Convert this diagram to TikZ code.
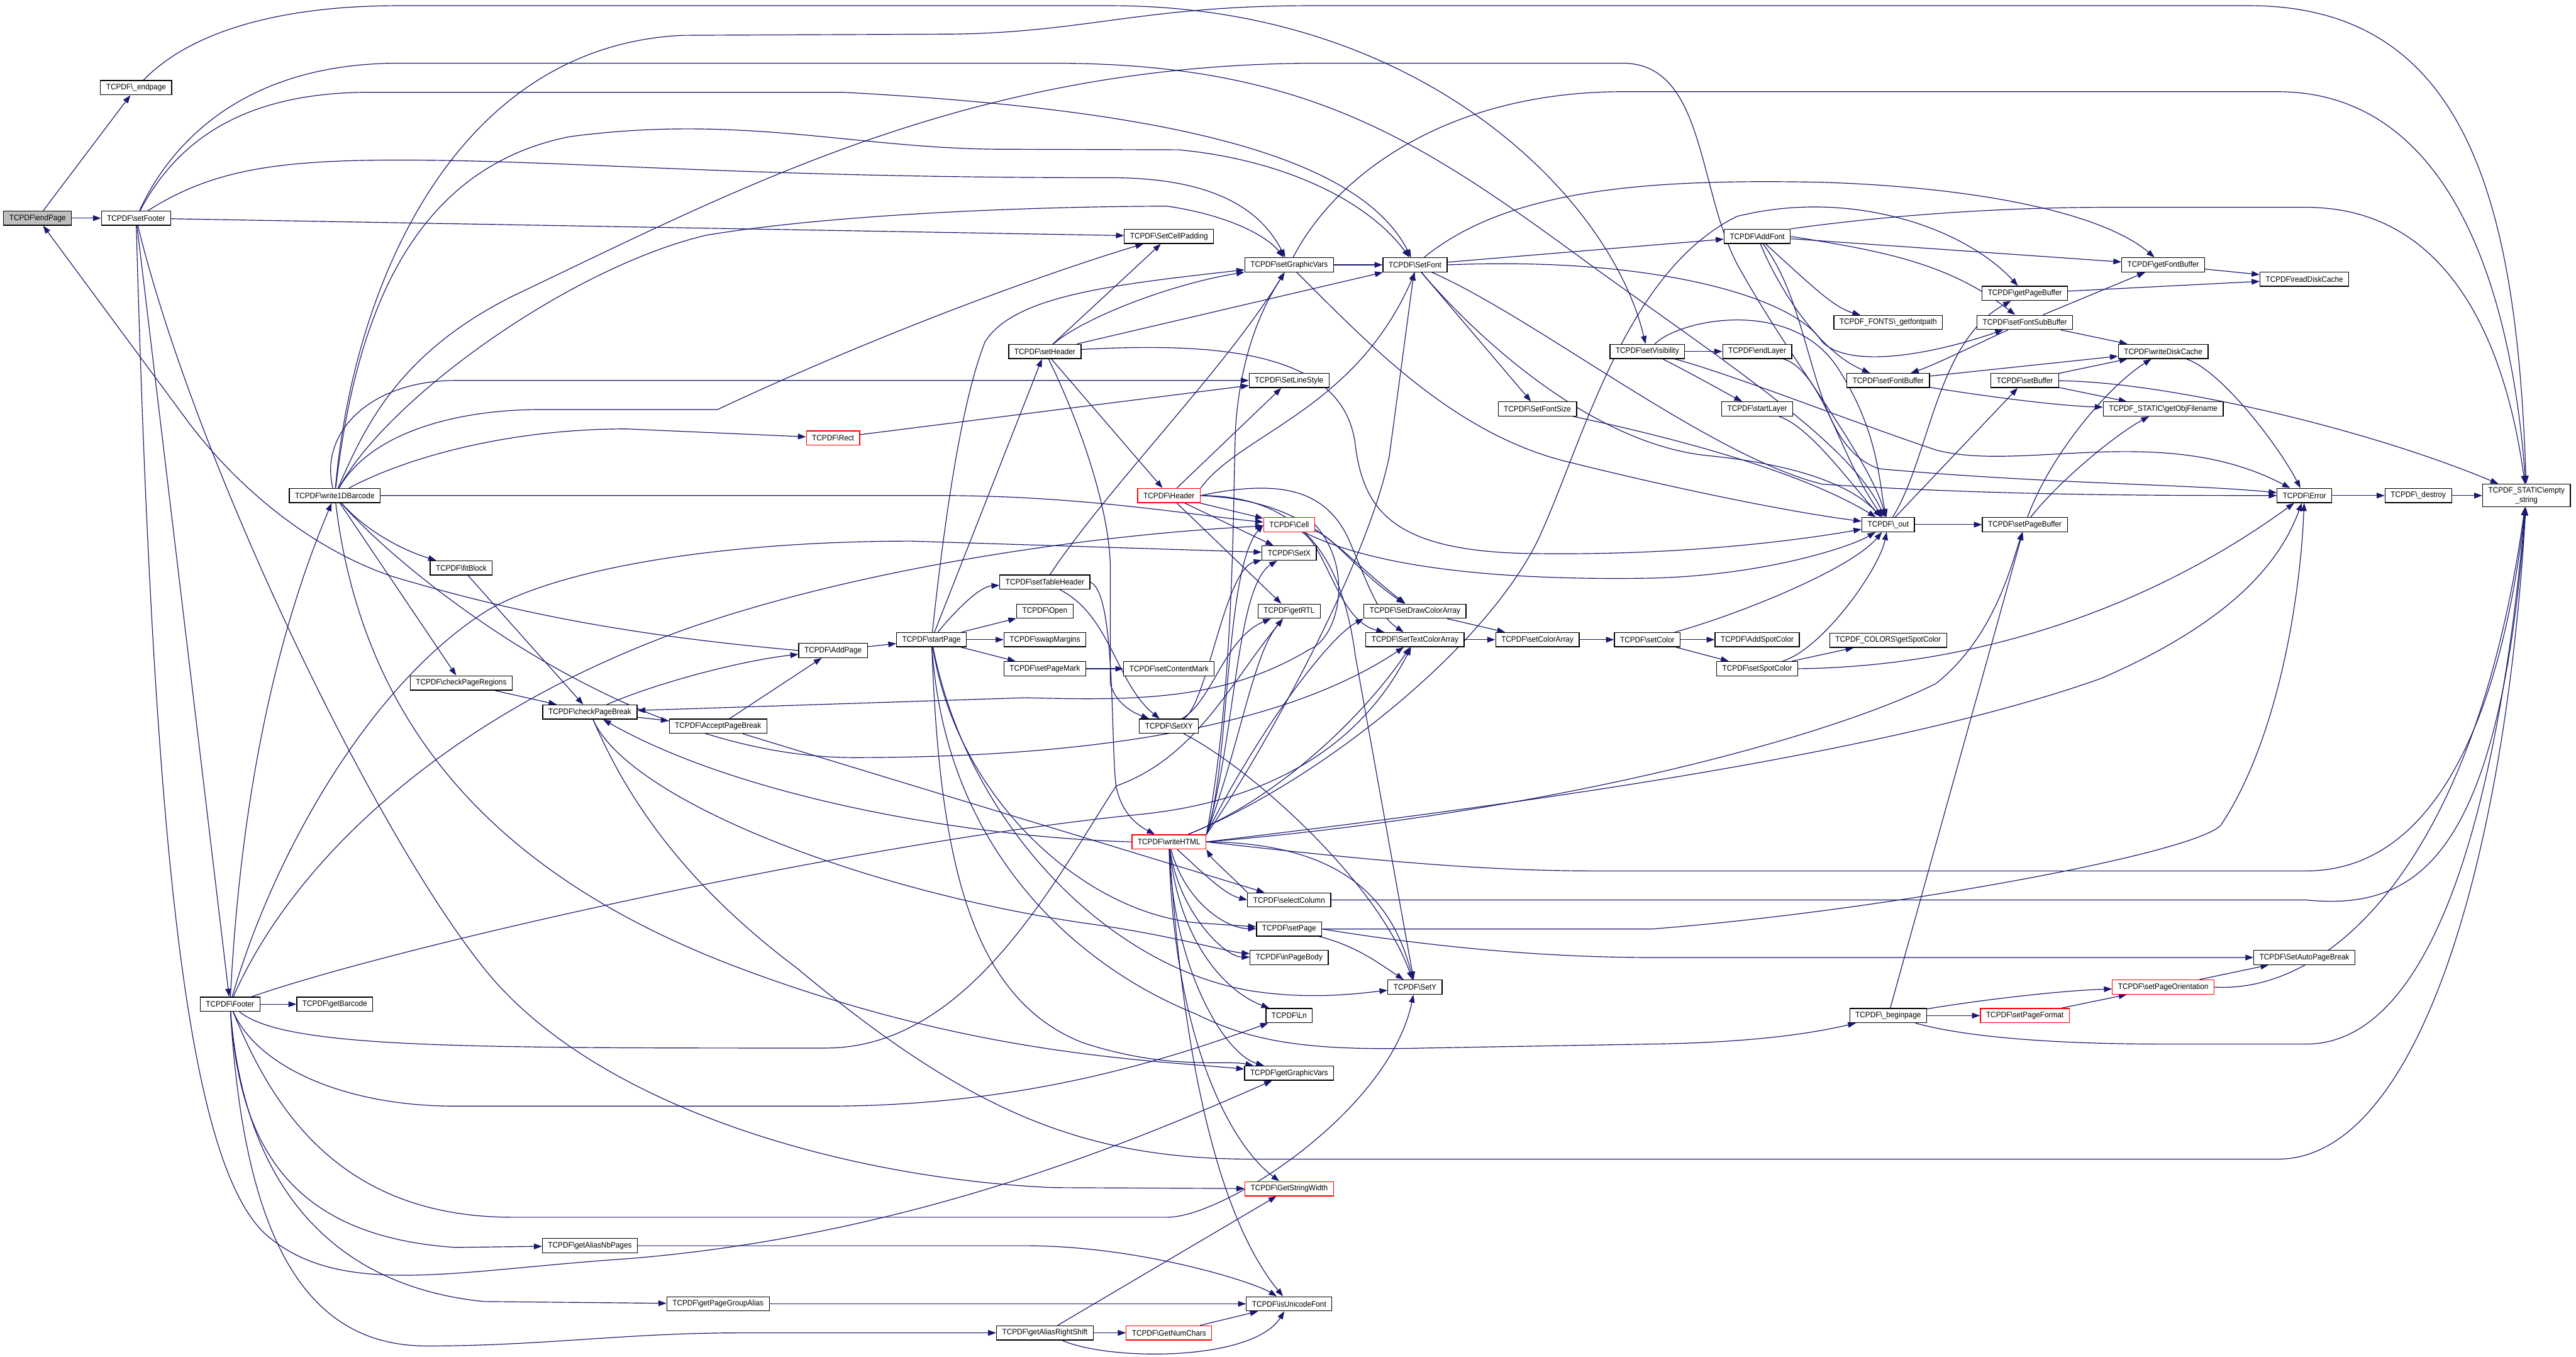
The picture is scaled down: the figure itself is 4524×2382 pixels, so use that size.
\documentclass[tikz,border=0pt]{standalone}
\usepackage{fontspec}
\newfontfamily\dxfont[FakeStretch=0.93]{Liberation Sans}
\usepackage{tikz}
\usetikzlibrary{arrows.meta,positioning,calc,backgrounds}
\definecolor{dxblue}{HTML}{191970}
\definecolor{dxgray}{HTML}{BFBFBF}
\newcommand{\tcpdf}{TCPDF\textbackslash}

\begin{document}
\begin{tikzpicture}[
    x=1pt, y=-1pt,
    fnbox/.style={draw=black, line width=1.4pt, fill=white, font=\dxfont\fontsize{14}{16}\selectfont,
                  minimum height=25pt, inner xsep=10pt, inner ysep=0pt},
    fnred/.style={fnbox, draw=red},
    fnroot/.style={fnbox, fill=dxgray},
    call/.style={draw=dxblue, line width=1.3pt, -{Triangle[length=14pt,width=10pt]}}
]
\useasboundingbox (0,0) rectangle (4524,2382);

% nodes
\node[fnroot] (endPage) at (66,383) {\tcpdf endPage};
\node[fnbox] (endpageU) at (239,154) {\tcpdf\_endpage};
\node[fnbox] (setFooter) at (239,383) {\tcpdf setFooter};
\node[fnbox] (Footer) at (404,1763) {\tcpdf Footer};
\node[fnbox] (write1DBarcode) at (588,870) {\tcpdf write1DBarcode};
\node[fnbox] (getBarcode) at (588,1763) {\tcpdf getBarcode};
\node[fnbox] (fitBlock) at (810,997) {\tcpdf fitBlock};
\node[fnbox] (checkPageRegions) at (810,1199) {\tcpdf checkPageRegions};
\node[fnbox] (checkPageBreak) at (1036,1250) {\tcpdf checkPageBreak};
\node[fnbox] (getAliasNbPages) at (1036,2187) {\tcpdf getAliasNbPages};
\node[fnbox] (AcceptPageBreak) at (1261,1275) {\tcpdf AcceptPageBreak};
\node[fnbox] (getPageGroupAlias) at (1261,2289) {\tcpdf getPageGroupAlias};
\node[fnred] (Rect) at (1463,769) {\tcpdf Rect};
\node[fnbox] (AddPage) at (1463,1142) {\tcpdf AddPage};
\node[fnbox] (startPage) at (1636,1123) {\tcpdf startPage};
\node[fnbox] (setHeader) at (1835,617) {\tcpdf setHeader};
\node[fnbox] (setTableHeader) at (1835,1022) {\tcpdf setTableHeader};
\node[fnbox] (Open) at (1835,1073) {\tcpdf Open};
\node[fnbox] (swapMargins) at (1835,1123) {\tcpdf swapMargins};
\node[fnbox] (setPageMark) at (1835,1174) {\tcpdf setPageMark};
\node[fnbox] (getAliasRightShift) at (1835,2340) {\tcpdf getAliasRightShift};
\node[fnbox] (SetCellPadding) at (2053,415) {\tcpdf SetCellPadding};
\node[fnred] (Header) at (2053,870) {\tcpdf Header};
\node[fnbox] (setContentMark) at (2053,1174) {\tcpdf setContentMark};
\node[fnbox] (SetXY) at (2053,1275) {\tcpdf SetXY};
\node[fnred] (writeHTML) at (2053,1478) {\tcpdf writeHTML};
\node[fnred] (GetNumChars) at (2053,2340) {\tcpdf GetNumChars};
\node[fnbox] (setGraphicVars) at (2264,465) {\tcpdf setGraphicVars};
\node[fnbox] (SetLineStyle) at (2264,668) {\tcpdf SetLineStyle};
\node[fnred] (Cell) at (2264,921) {\tcpdf Cell};
\node[fnbox] (SetX) at (2264,971) {\tcpdf SetX};
\node[fnbox] (getRTL) at (2264,1073) {\tcpdf getRTL};
\node[fnbox] (selectColumn) at (2264,1580) {\tcpdf selectColumn};
\node[fnbox] (setPage) at (2264,1631) {\tcpdf setPage};
\node[fnbox] (inPageBody) at (2264,1681) {\tcpdf inPageBody};
\node[fnbox] (Ln) at (2264,1783) {\tcpdf Ln};
\node[fnbox] (getGraphicVars) at (2264,1884) {\tcpdf getGraphicVars};
\node[fnred] (GetStringWidth) at (2264,2087) {\tcpdf GetStringWidth};
\node[fnbox] (isUnicodeFont) at (2264,2289) {\tcpdf isUnicodeFont};
\node[fnbox] (SetFont) at (2485,465) {\tcpdf SetFont};
\node[fnbox] (SetDrawColorArray) at (2485,1073) {\tcpdf SetDrawColorArray};
\node[fnbox] (SetTextColorArray) at (2485,1123) {\tcpdf SetTextColorArray};
\node[fnbox] (SetY) at (2485,1733) {\tcpdf SetY};
\node[fnbox] (SetFontSize) at (2700,718) {\tcpdf SetFontSize};
\node[fnbox] (setColorArray) at (2700,1123) {\tcpdf setColorArray};
\node[fnbox] (setVisibility) at (2893,617) {\tcpdf setVisibility};
\node[fnbox] (setColor) at (2893,1123) {\tcpdf setColor};
\node[fnbox] (AddFont) at (3086,415) {\tcpdf AddFont};
\node[fnbox] (endLayer) at (3086,617) {\tcpdf endLayer};
\node[fnbox] (startLayer) at (3086,718) {\tcpdf startLayer};
\node[fnbox] (AddSpotColor) at (3086,1123) {\tcpdf AddSpotColor};
\node[fnbox] (setSpotColor) at (3086,1174) {\tcpdf setSpotColor};
\node[fnbox] (getfontpath) at (3316,566) {TCPDF\_FONTS\textbackslash\_getfontpath};
\node[fnbox] (setFontBuffer) at (3316,668) {\tcpdf setFontBuffer};
\node[fnbox] (out) at (3316,921) {\tcpdf\_out};
\node[fnbox] (getSpotColor) at (3316,1124) {TCPDF\_COLORS\textbackslash getSpotColor};
\node[fnbox] (beginpage) at (3316,1783) {\tcpdf\_beginpage};
\node[fnbox] (getPageBuffer) at (3556,515) {\tcpdf getPageBuffer};
\node[fnbox] (setFontSubBuffer) at (3556,566) {\tcpdf setFontSubBuffer};
\node[fnbox] (setBuffer) at (3556,668) {\tcpdf setBuffer};
\node[fnbox] (setPageBuffer) at (3556,921) {\tcpdf setPageBuffer};
\node[fnred] (setPageFormat) at (3556,1783) {\tcpdf setPageFormat};
\node[fnbox] (getFontBuffer) at (3799,465) {\tcpdf getFontBuffer};
\node[fnbox] (writeDiskCache) at (3799,617) {\tcpdf writeDiskCache};
\node[fnbox] (getObjFilename) at (3799,718) {TCPDF\_STATIC\textbackslash getObjFilename};
\node[fnred] (setPageOrientation) at (3799,1733) {\tcpdf setPageOrientation};
\node[fnbox] (readDiskCache) at (4047,490) {\tcpdf readDiskCache};
\node[fnbox] (Error) at (4047,870) {\tcpdf Error};
\node[fnbox] (SetAutoPageBreak) at (4047,1681) {\tcpdf SetAutoPageBreak};
\node[fnbox] (destroy) at (4247,870) {\tcpdf\_destroy};
\node[fnbox, align=center, minimum height=40pt] (emptystring) at (4437,870) {TCPDF\_STATIC\textbackslash empty\\\_string};

\begin{scope}[on background layer]
% endPage
\draw[call] (endPage) -- (endpageU);
\draw[call] (endPage) -- (setFooter);
\draw[call] (AddPage.west) .. controls (1100,1115) and (900,1075) .. (689,1012) .. controls (550,965) and (420,860) .. (330,740) -- (endPage);
\draw[call] (endpageU) .. controls (330,60) and (480,10) .. (700,10) -- (1950,10) .. controls (2500,10) and (2830,350) .. (setVisibility);

% setFooter
\draw[call] (setFooter) -- (SetCellPadding);
\draw[call] (setFooter) .. controls (300,250) and (430,111) .. (700,111) -- (1850,111) .. controls (2300,111) and (2500,250) .. (2800,470) .. controls (3050,650) and (3250,780) .. (out);
\draw[call] (setFooter) .. controls (320,230) and (450,162) .. (650,162) -- (1480,162) .. controls (2000,190) and (2380,260) .. (SetFont);
\draw[call] (setFooter) .. controls (370,300) and (480,281) .. (700,281) .. controls (1000,281) and (1300,312) .. (1950,312) .. controls (2150,312) and (2220,380) .. (setGraphicVars);
\draw[call] (setFooter) -- (Footer);
\draw[call] (setFooter) .. controls (270,1500) and (330,2050) .. (470,2170) .. controls (600,2280) and (800,2230) .. (1100,2210) .. controls (1600,2170) and (2000,2000) .. (getGraphicVars);
\draw[call] (setFooter) .. controls (340,800) and (650,1450) .. (850,1700) .. controls (1050,1950) and (1500,2070) .. (1850,2085) -- (GetStringWidth);

% Footer
\draw[call] (Footer) -- (getBarcode);
\draw[call] (Footer) .. controls (420,1450) and (470,1150) .. (write1DBarcode);
\draw[call] (Footer) .. controls (520,1500) and (800,1250) .. (1200,1106) .. controls (1500,1000) and (1900,940) .. (Cell);
\draw[call] (Footer) .. controls (480,1500) and (650,1200) .. (857,1071) .. controls (1000,990) and (1300,950) .. (1600,950) -- (SetX);
\draw[call] (Footer) .. controls (700,1660) and (1500,1480) .. (2000,1430) .. controls (2300,1400) and (2420,1250) .. (SetTextColorArray);
\draw[call] (Footer) .. controls (500,1840) and (800,1840) .. (1450,1840) .. controls (1700,1840) and (1850,1550) .. (1960,1380) .. controls (2100,1330) and (2160,1200) .. (getRTL);
\draw[call] (Footer) .. controls (450,1870) and (600,1942) .. (800,1942) -- (1450,1942) .. controls (1800,1942) and (2050,1860) .. (Ln);
\draw[call] (Footer) .. controls (480,1950) and (600,2137) .. (900,2137) -- (2050,2137) .. controls (2150,2137) and (2440,1950) .. (SetY);
\draw[call] (Footer) .. controls (420,2000) and (500,2170) .. (800,2190) -- (getAliasNbPages);
\draw[call] (Footer) .. controls (430,2100) and (600,2260) .. (850,2285) -- (getPageGroupAlias);
\draw[call] (Footer) .. controls (430,2200) and (550,2363) .. (750,2363) .. controls (950,2363) and (1100,2340) .. (1300,2340) -- (getAliasRightShift);

% write1DBarcode
\draw[call] (write1DBarcode) .. controls (620,500) and (800,80) .. (1200,62) -- (1650,60) .. controls (1900,60) and (2000,10) .. (2300,10) -- (3950,10) .. controls (4330,10) and (4420,350) .. (emptystring);
\draw[call] (write1DBarcode) .. controls (640,750) and (700,620) .. (900,520) .. controls (1300,330) and (1700,115) .. (2300,111) -- (2850,111) .. controls (3000,111) and (2980,350) .. (3060,480) .. controls (3150,640) and (3280,800) .. (out);
\draw[call] (write1DBarcode) .. controls (620,600) and (700,300) .. (1000,240) .. controls (1300,200) and (1500,260) .. (1750,262) -- (2070,263) .. controls (2250,280) and (2400,350) .. (SetFont);
\draw[call] (write1DBarcode) .. controls (680,700) and (1000,470) .. (1240,413) .. controls (1500,370) and (1900,362) .. (2050,362) .. controls (2170,380) and (2230,420) .. (setGraphicVars);
\draw[call] (write1DBarcode) .. controls (560,760) and (650,668) .. (800,668) -- (SetLineStyle);
\draw[call] (write1DBarcode) .. controls (650,760) and (800,719) .. (950,719) -- (1260,719) .. controls (1600,560) and (1900,460) .. (SetCellPadding);
\draw[call] (write1DBarcode) .. controls (720,800) and (900,753) .. (1100,753) -- (Rect);
\draw[call] (write1DBarcode) -- (1650,870) .. controls (1900,870) and (2100,905) .. (Cell);
\draw[call] (write1DBarcode) .. controls (650,940) and (720,970) .. (fitBlock);
\draw[call] (write1DBarcode) -- (checkPageRegions);
\draw[call] (write1DBarcode) .. controls (640,1300) and (900,1550) .. (1300,1700) .. controls (1700,1850) and (2000,1860) .. (getGraphicVars);
\draw[call] (write1DBarcode) .. controls (700,1000) and (1100,1330) .. (1500,1330) .. controls (1900,1330) and (2250,1280) .. (SetTextColorArray);

% page breaking
\draw[call] (fitBlock) -- (checkPageBreak);
\draw[call] (checkPageRegions) -- (checkPageBreak);
\draw[call] (checkPageBreak) -- (AcceptPageBreak);
\draw[call] (checkPageBreak) .. controls (1150,1200) and (1300,1160) .. (AddPage);
\draw[call] (checkPageBreak) .. controls (1100,1400) and (1500,1560) .. (1900,1620) .. controls (2050,1640) and (2150,1670) .. (inPageBody);
\draw[call] (checkPageBreak) .. controls (1100,1400) and (1200,1550) .. (1400,1700) .. controls (1700,1950) and (1900,2035) .. (2200,2035) -- (4000,2035) .. controls (4250,2035) and (4400,1500) .. (emptystring);
\draw[call] (AcceptPageBreak) -- (AddPage);
\draw[call] (AcceptPageBreak) -- (selectColumn);
\draw[call] (AddPage) -- (startPage);

% startPage
\draw[call] (startPage) .. controls (1680,1070) and (1720,1030) .. (setTableHeader);
\draw[call] (startPage) -- (Open);
\draw[call] (startPage) -- (swapMargins);
\draw[call] (startPage) -- (setPageMark);
\draw[call] (startPage) -- (setHeader);
\draw[call] (startPage) .. controls (1660,900) and (1690,700) .. (1730,600) .. controls (1780,520) and (1950,500) .. (setGraphicVars);
\draw[call] (startPage) .. controls (1650,1500) and (1700,1750) .. (1900,1830) .. controls (2050,1880) and (2150,1860) .. (getGraphicVars);
\draw[call] (startPage) .. controls (1660,1500) and (1900,1700) .. (2100,1780) .. controls (2200,1830) and (2300,1845) .. (2500,1840) -- (2900,1833) .. controls (3100,1830) and (3200,1810) .. (beginpage);
\draw[call] (startPage) .. controls (1680,1400) and (1900,1600) .. (2100,1620) -- (setPage);
\draw[call] (startPage) .. controls (1700,1450) and (1950,1700) .. (2200,1740) .. controls (2300,1755) and (2380,1745) .. (SetY);
\draw[call] (setPageMark) -- (setContentMark);

% setTableHeader, setHeader
\draw[call] (setTableHeader) .. controls (1950,1080) and (1960,1200) .. (SetXY);
\draw[call] (setTableHeader.east) .. controls (1960,1040) and (1950,1300) .. (1960,1380) .. controls (1970,1430) and (2000,1450) .. (writeHTML);
\draw[call] (setTableHeader) .. controls (1950,850) and (2150,650) .. (setGraphicVars);
\draw[call] (setHeader) -- (SetCellPadding);
\draw[call] (setHeader) .. controls (1900,560) and (2050,500) .. (setGraphicVars);
\draw[call] (setHeader) -- (SetFont);
\draw[call] (setHeader) -- (Header);
\draw[call] (setHeader) .. controls (2150,600) and (2360,620) .. (2380,780) .. controls (2395,900) and (2450,970) .. (2700,972) .. controls (2950,975) and (3150,950) .. (out);
\draw[call] (setHeader) .. controls (1900,750) and (1950,900) .. (1950,1000) -- (1950,1200) .. controls (1960,1240) and (2000,1255) .. (SetXY);

% Header, Rect, SetXY, Cell
\draw[call] (Header) -- (SetLineStyle);
\draw[call] (Header.north east) .. controls (2180,760) and (2380,720) .. (SetFont.south);
\draw[call] (Header) -- (Cell);
\draw[call] (Header) -- (SetX);
\draw[call] (Header) -- (getRTL);
\draw[call] (Header.east) .. controls (2250,840) and (2330,860) .. (2370,950) .. controls (2400,1020) and (2420,1080) .. (SetTextColorArray);
\draw[call] (Header.east) .. controls (2300,880) and (2340,960) .. (SetDrawColorArray);
\draw[call] (Header.east) .. controls (2300,870) and (2360,1000) .. (2380,1150) -- (SetY);
\draw[call] (Rect) -- (SetLineStyle);
\draw[call] (SetXY) .. controls (2120,1240) and (2150,1000) .. (SetX);
\draw[call] (SetXY) .. controls (2130,1230) and (2150,1120) .. (getRTL);
\draw[call] (SetXY) .. controls (2200,1350) and (2420,1550) .. (SetY);
\draw[call] (Cell.east) .. controls (2380,1000) and (2350,1120) .. (2300,1140) .. controls (2150,1230) and (2000,1230) .. (1800,1225) -- (checkPageBreak);
\draw[call] (Cell) .. controls (2340,940) and (2380,1000) .. (SetDrawColorArray);
\draw[call] (Cell) .. controls (2330,960) and (2350,1090) .. (SetTextColorArray);
\draw[call] (Cell) .. controls (2400,990) and (2600,1020) .. (2900,1015) .. controls (3100,1010) and (3250,960) .. (out);

% colours
\draw[call] (SetDrawColorArray) -- (setColorArray);
\draw[call] (SetTextColorArray) -- (setColorArray);
\draw[call] (setColorArray) -- (setColor);
\draw[call] (setColor) -- (AddSpotColor);
\draw[call] (setColor) -- (setSpotColor);
\draw[call] (setColor) .. controls (3050,1080) and (3250,1000) .. (out);
\draw[call] (setSpotColor) -- (getSpotColor);
\draw[call] (setSpotColor) .. controls (3200,1140) and (3300,1000) .. (out);
\draw[call] (setSpotColor.east) .. controls (3500,1170) and (3800,1050) .. (Error);

% fonts
\draw[call] (setGraphicVars) -- (SetFont);
\draw[call] (setGraphicVars) .. controls (2350,300) and (2550,161) .. (2850,161) -- (4000,161) .. controls (4300,161) and (4410,500) .. (emptystring);
\draw[call] (setGraphicVars) .. controls (2400,600) and (2550,760) .. (2750,810) .. controls (2950,860) and (3150,900) .. (out);
\draw[call] (SetFont) -- (AddFont);
\draw[call] (SetFont) -- (SetFontSize);
\draw[call] (SetFont) .. controls (2600,600) and (2800,780) .. (3000,800) .. controls (3150,815) and (3250,850) .. (out);
\draw[call] (SetFont) .. controls (2650,330) and (2900,314) .. (3200,320) .. controls (3500,330) and (3700,380) .. (getFontBuffer);
\draw[call] (SetFont.east) .. controls (2900,450) and (3150,520) .. (3200,600) .. controls (3250,650) and (3400,620) .. (setFontSubBuffer);
\draw[call] (SetFont) .. controls (2700,560) and (3000,800) .. (3200,850) .. controls (3500,870) and (3800,870) .. (Error);
\draw[call] (SetFontSize) .. controls (2900,760) and (3150,820) .. (out);
\draw[call] (AddFont) -- (getFontBuffer);
\draw[call] (AddFont.north east) .. controls (3300,380) and (3500,364) .. (3700,364) -- (4050,364) .. controls (4300,364) and (4400,600) .. (emptystring);
\draw[call] (AddFont) .. controls (3180,500) and (3220,540) .. (getfontpath);
\draw[call] (AddFont) .. controls (3130,520) and (3200,620) .. (setFontBuffer);
\draw[call] (AddFont.east) .. controls (3300,440) and (3420,460) .. (setFontSubBuffer);
\draw[call] (AddFont) .. controls (3190,550) and (3175,780) .. (3300,823) .. controls (3600,850) and (3850,850) .. (Error);
\draw[call] (setVisibility) -- (endLayer);
\draw[call] (setVisibility) .. controls (2960,650) and (3050,700) .. (startLayer);
\draw[call] (setVisibility) .. controls (2950,560) and (3150,520) .. (3230,650) .. controls (3300,760) and (3300,850) .. (out);
\draw[call] (setVisibility) .. controls (3050,660) and (3250,740) .. (3400,790) .. controls (3550,830) and (3800,740) .. (Error);
\draw[call] (endLayer) .. controls (3200,650) and (3230,800) .. (out);
\draw[call] (startLayer) .. controls (3180,750) and (3250,850) .. (out);

% buffers
\draw[call] (setFontSubBuffer) .. controls (3480,600) and (3400,640) .. (setFontBuffer);
\draw[call] (setFontSubBuffer) -- (getFontBuffer);
\draw[call] (setFontSubBuffer) -- (writeDiskCache);
\draw[call] (setFontBuffer) -- (writeDiskCache);
\draw[call] (setFontBuffer) .. controls (3450,690) and (3600,712) .. (getObjFilename);
\draw[call] (getFontBuffer) -- (readDiskCache);
\draw[call] (getPageBuffer) -- (readDiskCache);
\draw[call] (setBuffer) -- (writeDiskCache);
\draw[call] (setBuffer) -- (getObjFilename);
\draw[call] (setBuffer) .. controls (3800,670) and (4150,750) .. (emptystring);
\draw[call] (writeDiskCache) .. controls (3900,650) and (4000,780) .. (Error);
\draw[call] (setPageBuffer) .. controls (3600,800) and (3700,680) .. (writeDiskCache);
\draw[call] (setPageBuffer) .. controls (3620,840) and (3720,760) .. (getObjFilename);
\draw[call] (out) -- (setBuffer);
\draw[call] (out) .. controls (3390,800) and (3400,600) .. (getPageBuffer);
\draw[call] (out) -- (setPageBuffer);
\draw[call] (Error) -- (destroy);
\draw[call] (destroy) -- (emptystring);

% writeHTML
\draw[call] (writeHTML.north east) .. controls (2160,1350) and (2150,1000) .. (Cell.west);
\draw[call] (writeHTML.north east) .. controls (2170,1300) and (2170,1030) .. (SetX);
\draw[call] (writeHTML.north east) .. controls (2180,1300) and (2200,1150) .. (getRTL);
\draw[call] (writeHTML.north east) .. controls (2200,1300) and (2330,1120) .. (SetDrawColorArray.south west);
\draw[call] (writeHTML) .. controls (2250,1400) and (2400,1250) .. (SetTextColorArray);
\draw[call] (writeHTML) .. controls (2110,1530) and (2150,1570) .. (selectColumn.west);
\draw[call] (selectColumn.north west) .. controls (2170,1545) and (2130,1510) .. (writeHTML.south east);
\draw[call] (writeHTML) .. controls (2080,1580) and (2150,1630) .. (setPage);
\draw[call] (writeHTML) .. controls (2070,1600) and (2150,1680) .. (inPageBody);
\draw[call] (writeHTML) .. controls (2070,1650) and (2150,1740) .. (Ln);
\draw[call] (writeHTML) .. controls (2060,1700) and (2150,1850) .. (getGraphicVars);
\draw[call] (writeHTML) .. controls (2060,1800) and (2150,2000) .. (GetStringWidth);
\draw[call] (writeHTML) .. controls (2080,1900) and (2150,2150) .. (isUnicodeFont);
\draw[call] (writeHTML.east) .. controls (2380,1480) and (2450,1600) .. (SetY);
\draw[call] (writeHTML.west) .. controls (1700,1470) and (1300,1400) .. (checkPageBreak);
\draw[call] (writeHTML.east) .. controls (2600,1420) and (3300,1330) .. (3690,1191) .. controls (3900,1100) and (4000,1000) .. (Error);
\draw[call] (writeHTML.east) .. controls (2400,1510) and (2600,1529) .. (2800,1529) -- (4050,1529) .. controls (4300,1529) and (4400,1200) .. (emptystring);
\draw[call] (writeHTML.north east) .. controls (2200,1350) and (2400,1000) .. (2440,800) -- (SetFont);
\draw[call] (writeHTML.north east) .. controls (2170,1200) and (2165,850) .. (2170,750) .. controls (2180,600) and (2230,520) .. (setGraphicVars);
\draw[call] (writeHTML) .. controls (2300,1380) and (2600,1150) .. (2700,950) .. controls (2780,780) and (2850,480) .. (3050,380) .. controls (3250,330) and (3450,400) .. (getPageBuffer);
\draw[call] (writeHTML.east) .. controls (2700,1430) and (3200,1300) .. (3400,1200) .. controls (3500,1120) and (3530,1000) .. (setPageBuffer);
\draw[call] (selectColumn.east) -- (4050,1580) .. controls (4250,1600) and (4390,1500) .. (emptystring);

% pages
\draw[call] (setPage) .. controls (2380,1660) and (2420,1690) .. (SetY);
\draw[call] (setPage.east) .. controls (2500,1660) and (2700,1681) .. (2900,1681) -- (SetAutoPageBreak);
\draw[call] (setPage.east) -- (2900,1631) .. controls (3300,1600) and (3850,1500) .. (3900,1449) .. controls (4000,1300) and (4040,1050) .. (Error);
\draw[call] (beginpage) -- (setPageBuffer);
\draw[call] (beginpage) -- (setPageFormat);
\draw[call] (beginpage) .. controls (3450,1760) and (3600,1740) .. (setPageOrientation);
\draw[call] (beginpage) .. controls (3450,1820) and (3600,1833) .. (3800,1833) -- (4050,1833) .. controls (4250,1833) and (4380,1500) .. (emptystring);
\draw[call] (setPageFormat) -- (setPageOrientation);
\draw[call] (setPageOrientation) -- (SetAutoPageBreak);
\draw[call] (setPageOrientation.east) .. controls (4100,1745) and (4350,1500) .. (emptystring);

% aliases
\draw[call] (getAliasNbPages) -- (1800,2187) .. controls (2000,2187) and (2200,2250) .. (isUnicodeFont);
\draw[call] (getPageGroupAlias) -- (isUnicodeFont);
\draw[call] (getAliasRightShift) -- (GetNumChars);
\draw[call] (getAliasRightShift) -- (GetStringWidth);
\draw[call] (getAliasRightShift) .. controls (1950,2390) and (2200,2390) .. (isUnicodeFont);
\draw[call] (GetNumChars) -- (isUnicodeFont);
\end{scope}
\end{tikzpicture}
\end{document}
